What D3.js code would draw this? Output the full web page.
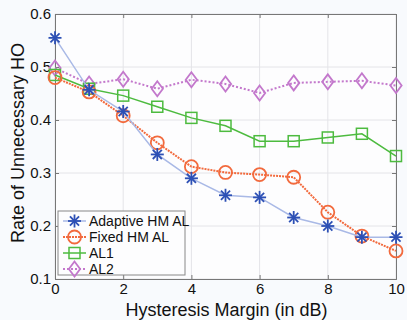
<!DOCTYPE html>
<html><head><meta charset="utf-8">
<script src="https://cdn.jsdelivr.net/npm/d3@7"></script>
<style>body{margin:0;background:#f8fafd;}svg{display:block;font-family:"Liberation Sans",Arial,sans-serif;}</style>
</head><body><svg id="c" width="407" height="320"></svg>
<script>
const xs = [0,1,2,3,4,5,6,7,8,9,10];
const adaptive = [0.555,0.457,0.416,0.335,0.290,0.258,0.254,0.216,0.200,0.179,0.179];
const fixedHM = [0.480,0.453,0.408,0.357,0.312,0.301,0.297,0.292,0.226,0.181,0.153];
const al1 = [0.485,0.459,0.446,0.425,0.404,0.389,0.360,0.360,0.367,0.374,0.332];
const al2 = [0.498,0.468,0.477,0.459,0.476,0.468,0.451,0.470,0.472,0.474,0.465];
const xTicks = [0,2,4,6,8,10];
const yTicks = [0.1,0.2,0.3,0.4,0.5,0.6];
const names = ["Adaptive HM AL","Fixed HM AL","AL1","AL2"];

const svg = d3.select("#c");
const L=55,R=396,T=14,B=279;
const x = d3.scaleLinear().domain([0,10]).range([L,R]);
const y = d3.scaleLinear().domain([0.1,0.6]).range([B,T]);

svg.append("rect").attr("x",L).attr("y",T).attr("width",R-L).attr("height",B-T).attr("fill","#fdfdfe");
svg.append("g").selectAll("line").data(xTicks).join("line")
 .attr("x1",d=>x(d)).attr("x2",d=>x(d)).attr("y1",T).attr("y2",B).attr("stroke","#e4e4e8").attr("stroke-width",1);
svg.append("g").selectAll("line").data(yTicks).join("line")
 .attr("x1",L).attr("x2",R).attr("y1",d=>y(d)).attr("y2",d=>y(d)).attr("stroke","#e4e4e8").attr("stroke-width",1);

const xa = svg.append("g").attr("transform",`translate(0,${B})`).call(d3.axisBottom(x).tickValues(xTicks).tickSize(-4).tickPadding(4));
const xa2 = svg.append("g").attr("transform",`translate(0,${T})`).call(d3.axisTop(x).tickValues(xTicks).tickSize(-4).tickFormat(""));
const ya = svg.append("g").attr("transform",`translate(${L},0)`).call(d3.axisLeft(y).tickValues(yTicks).tickSize(-4).tickPadding(4).tickFormat(d3.format(".1f")));
const ya2 = svg.append("g").attr("transform",`translate(${R},0)`).call(d3.axisRight(y).tickValues(yTicks).tickSize(-4).tickFormat(""));
[xa,xa2,ya,ya2].forEach(g=>{g.select(".domain").attr("stroke","#777");g.selectAll(".tick line").attr("stroke","#777");
 g.selectAll("text").attr("fill","#111").style("font-size","15px").style("font-family","Liberation Sans, Arial, sans-serif");});
xa.selectAll("text").attr("dy","0.72em");

const series = [
 {d:adaptive, line:"#a9b9e6", mk:"#2d50b5", dash:null, w:1.5, m:"star"},
 {d:fixedHM, line:"#f26a3d", mk:"#f26a3d", dash:"2,1", w:2, m:"circle"},
 {d:al1, line:"#4dbb3f", mk:"#4dbb3f", dash:null, w:1.5, m:"square"},
 {d:al2, line:"#c378cc", mk:"#c378cc", dash:"2,2", w:2, m:"diamond"}
];
function marker(g, type, cx, cy, color){
  if(type==="star"){
    const s=6.5;
    const p=[[0,-s,0,s],[-s,0,s,0],[-s*0.7,-s*0.7,s*0.7,s*0.7],[-s*0.7,s*0.7,s*0.7,-s*0.7]];
    p.forEach(a=>g.append("line").attr("x1",cx+a[0]).attr("y1",cy+a[1]).attr("x2",cx+a[2]).attr("y2",cy+a[3]).attr("stroke",color).attr("stroke-width",1.8));
  } else if(type==="circle"){
    g.append("circle").attr("cx",cx).attr("cy",cy).attr("r",6.5).attr("fill","none").attr("stroke",color).attr("stroke-width",1.8);
  } else if(type==="square"){
    g.append("rect").attr("x",cx-5.5).attr("y",cy-5.5).attr("width",11).attr("height",11).attr("fill","none").attr("stroke",color).attr("stroke-width",1.5);
  } else {
    const s=7.5;
    g.append("path").attr("d",`M${cx},${cy-s}L${cx+s*0.75},${cy}L${cx},${cy+s}L${cx-s*0.75},${cy}Z`).attr("fill","none").attr("stroke",color).attr("stroke-width",1.8);
  }
}
const line = d3.line().x((d,i)=>x(xs[i])).y(d=>y(d));
[3,2,1,0].forEach(k=>{
  const s=series[k];
  const g=svg.append("g");
  g.append("path").attr("d",line(s.d)).attr("fill","none").attr("stroke",s.line).attr("stroke-width",s.w).attr("stroke-dasharray",s.dash);
  s.d.forEach((v,i)=>marker(g,s.m,x(xs[i]),y(v),s.mk));
});

const lg = svg.append("g");
lg.append("rect").attr("x",58).attr("y",211).attr("width",127).attr("height",64).attr("fill","#fdfdfe").attr("stroke","#888").attr("stroke-width",1);
series.forEach((s,i)=>{
  const yy=221+i*16;
  lg.append("line").attr("x1",63).attr("x2",86).attr("y1",yy).attr("y2",yy).attr("stroke",s.line).attr("stroke-width",s.w).attr("stroke-dasharray",s.dash);
  marker(lg,s.m,74.5,yy,s.mk);
  lg.append("text").attr("x",89).attr("y",yy+5).text(names[i]).style("font-size","14px").attr("fill","#111");
});

svg.append("text").attr("x",(L+R)/2+1).attr("y",316).attr("text-anchor","middle").style("font-size","18px").attr("fill","#111").text("Hysteresis Margin (in dB)");
svg.append("text").attr("transform",`translate(24,143) rotate(-90)`).attr("text-anchor","middle").style("font-size","18px").attr("fill","#111").text("Rate of Unnecessary HO");
</script></body></html>
